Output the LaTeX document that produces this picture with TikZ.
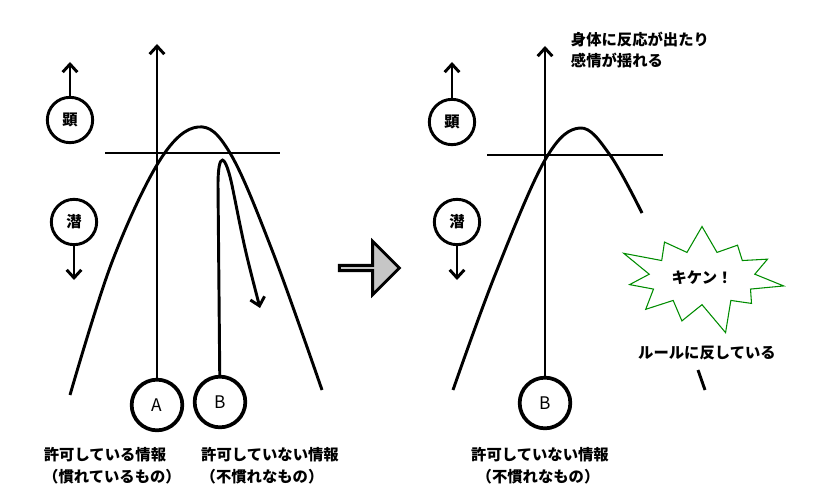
\documentclass[tikz,border=0pt]{standalone}
\usepackage{fontspec}
\setmainfont{Noto Sans CJK JP}
\usetikzlibrary{shapes.symbols,shapes.arrows,arrows.meta}

\begin{document}
\begin{tikzpicture}[
    x=0.75pt, y=-0.75pt,
    line width=2.2pt,
    info/.style={circle, draw, line width=2.8pt, minimum size=38pt, inner sep=0pt, font=\fontsize{13}{15}\selectfont},
    level/.style={circle, draw, line width=2.2pt, minimum size=34pt, inner sep=0pt, font=\bfseries\itshape\fontsize{11.5}{13}\selectfont},
    note/.style={align=left, font=\bfseries\fontsize{11.5}{16}\selectfont},
    arrow/.style={-{Straight Barb[length=6pt,width=11pt]}, line width=2.2pt}
]
    \useasboundingbox (0,0) rectangle (813,502);

    % left panel
    \node[level] (ken1) at (70,120) {顕};
    \node[level] (sen1) at (74,222) {潜};
    \coordinate (kentop1) at (70,62);
    \coordinate (senbot1) at (74,280);
    \draw[arrow] (ken1) -- (kentop1);
    \draw[arrow] (sen1) -- (senbot1);

    \node[info] (A) at (157,405) {A};
    \node[info] (B1) at (220,402) {B};
    \coordinate (axtop1) at (157,44);
    \draw[arrow] (A) -- (axtop1);
    \draw (105,153) -- (280,153);
    \draw plot[smooth, tension=0.6] coordinates {(70,395) (112,262) (160,160) (198,127) (230,153) (272,250) (322,390)};
    \draw[arrow] (B1) -- (218,185) .. controls (218,152) and (225,150) .. (233,190) .. controls (245,250) .. (260,308);

    \node[note] (txtA1) at (105,455) {許可している情報};
    \node[note] (txtA2) at (112,477) {（慣れているもの）};
    \node[note] (txtB1) at (270,455) {許可していない情報};
    \node[note] (txtB2) at (262,477) {（不慣れなもの）};

    % transition arrow
    \node[single arrow, draw, line width=2.2pt, fill=gray!45, minimum height=45pt, minimum width=40pt,
          single arrow head extend=10pt, inner sep=0pt] (next) at (368,268) {};

    % right panel
    \node[level] (ken2) at (452,122) {顕};
    \node[level] (sen2) at (457,222) {潜};
    \coordinate (kentop2) at (452,62);
    \coordinate (senbot2) at (457,280);
    \draw[arrow] (ken2) -- (kentop2);
    \draw[arrow] (sen2) -- (senbot2);

    \node[info] (B2) at (545,403) {B};
    \coordinate (axtop2) at (545,46);
    \draw[arrow] (B2) -- (axtop2);
    \draw (487,155) -- (663,155);
    \draw plot[smooth, tension=0.6] coordinates {(453,390) (495,275) (545,160) (580,128) (610,155) (642,213)};
    \draw (698,370) -- (705,390);

    \node[note, anchor=west] (body) at (565,50) {身体に反応が出たり\\感情が揺れる};
    \node[starburst, draw=green!55!black, line width=0.8pt, starburst points=11, starburst point height=26pt,
          minimum width=132pt, minimum height=92pt, inner sep=0pt, font=\bfseries\fontsize{11.5}{13}\selectfont] (kiken) at (702,278) {キケン！};
    \node[note] (rule) at (707,353) {ルールに反している};
    \node[note] (txtB3) at (540,455) {許可していない情報};
    \node[note] (txtB4) at (538,477) {（不慣れなもの）};
\end{tikzpicture}
\end{document}
